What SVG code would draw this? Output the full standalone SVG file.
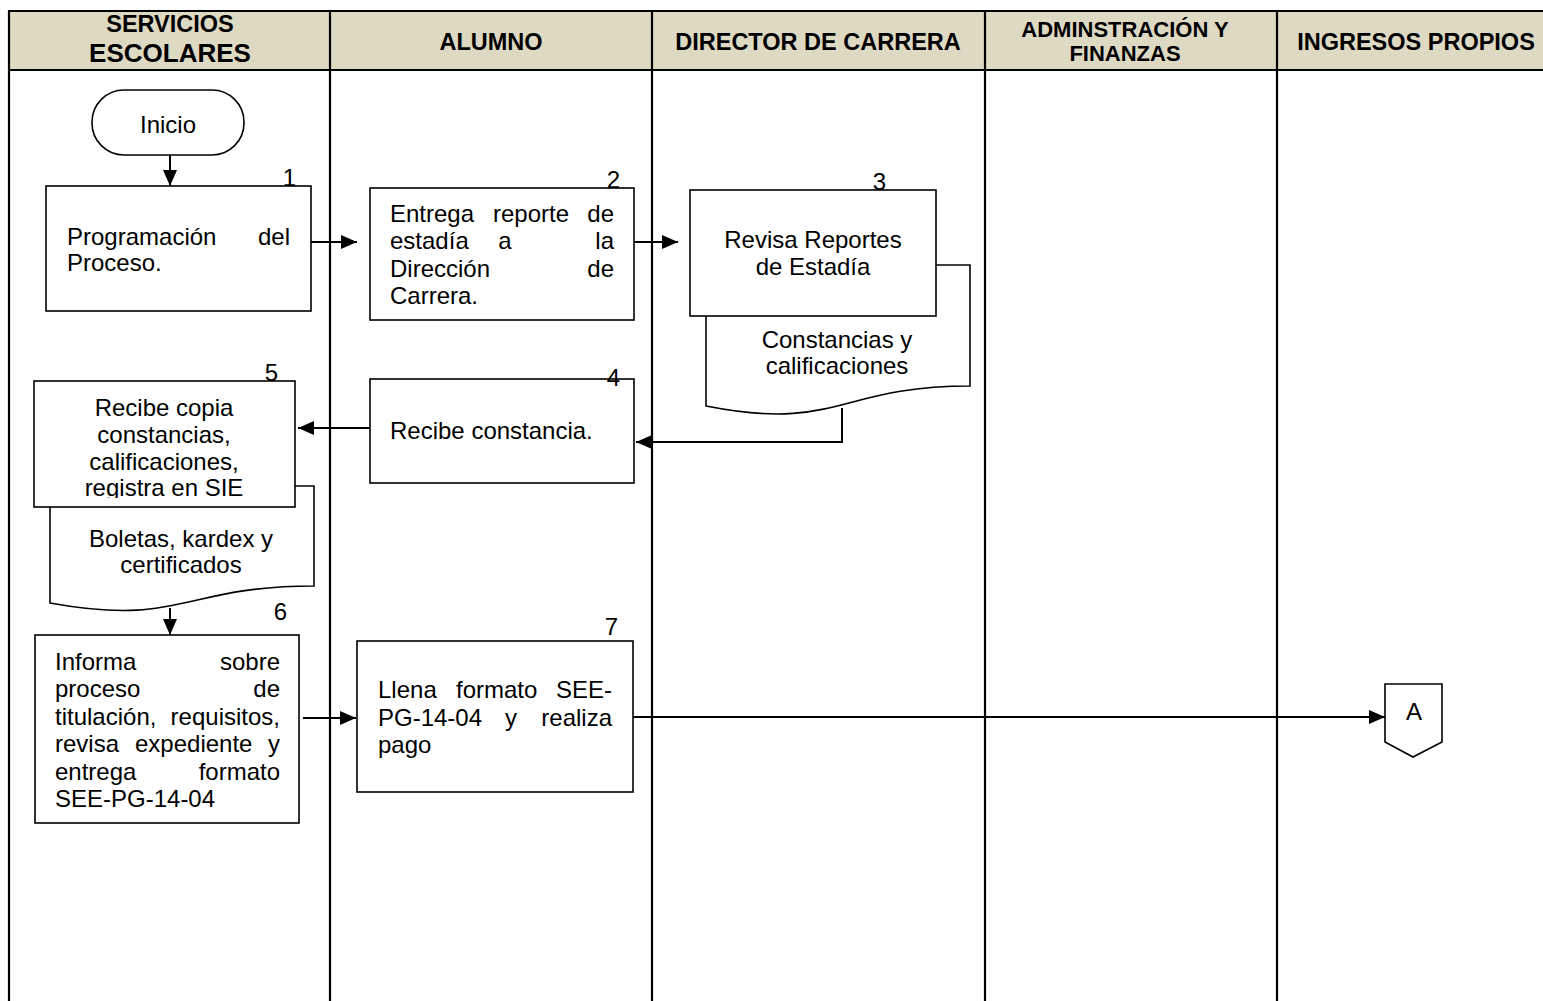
<svg xmlns="http://www.w3.org/2000/svg" width="1543" height="1001" viewBox="0 0 1543 1001">
<style>
text{font-family:"Liberation Sans",Arial,sans-serif;fill:#000}
.h{font-weight:bold;font-size:23.5px;text-anchor:middle}
.t{font-size:24px}
.c{text-anchor:middle}
.e{text-anchor:end}
.box{fill:#fff;stroke:#000;stroke-width:1.6}
.lane{stroke:#000;stroke-width:2.2;fill:none}
.con{stroke:#000;stroke-width:2;fill:none}
</style>
<defs>
<marker id="arr" viewBox="0 0 16 14" refX="16" refY="7" markerWidth="16" markerHeight="14" orient="auto" markerUnits="userSpaceOnUse">
<path d="M0,0 L16,7 L0,14 Z" fill="#000"/>
</marker>
<clipPath id="clip5"><rect x="34" y="381" width="261" height="117"/></clipPath>
</defs>

<g id="lanes">
<rect x="9" y="11" width="1540" height="59" fill="#DDD9C3"/>
<path class="lane" d="M1543,11 H9 V1001 M9,70 H1543 M330,11 V1001 M652,11 V1001 M985,11 V1001 M1277,11 V1001"/>
<text class="h" x="170" y="32">SERVICIOS</text>
<text class="h" x="170" y="62" style="font-size:26px">ESCOLARES</text>
<text class="h" x="491" y="50">ALUMNO</text>
<text class="h" x="818" y="50">DIRECTOR DE CARRERA</text>
<text class="h" x="1125" y="37" style="font-size:22px">ADMINSTRACIÓN Y</text>
<text class="h" x="1125" y="61" style="font-size:22px">FINANZAS</text>
<text class="h" x="1416" y="50">INGRESOS PROPIOS</text>
</g>

<g id="connectors">
<path class="con" d="M170,147 V186" marker-end="url(#arr)"/>
<path class="con" d="M311,242 H357" marker-end="url(#arr)"/>
<path class="con" d="M634,242 H678" marker-end="url(#arr)"/>
<path class="con" d="M842,408 V442 H636" marker-end="url(#arr)"/>
<path class="con" d="M370,428 H298" marker-end="url(#arr)"/>
<path class="con" d="M170,608 V635" marker-end="url(#arr)"/>
<path class="con" d="M303,718 H356" marker-end="url(#arr)"/>
<path class="con" d="M633,717 H1385" marker-end="url(#arr)"/>
</g>

<g id="inicio">
<rect class="box" x="92" y="90" width="152" height="65" rx="32" ry="32"/>
<text class="t c" x="168" y="133">Inicio</text>
</g>

<g id="n1">
<rect class="box" x="46" y="186" width="265" height="125"/>
<text class="t e" x="296" y="186">1</text>
<text class="t" x="67" y="245">Programación</text>
<text class="t e" x="290" y="245">del</text>
<text class="t" x="67" y="271">Proceso.</text>
</g>

<g id="n2">
<rect class="box" x="370" y="188" width="264" height="132"/>
<text class="t e" x="620" y="188">2</text>
<text class="t" x="390" y="222">Entrega</text>
<text class="t" x="493" y="222">reporte</text>
<text class="t e" x="614" y="222">de</text>
<text class="t" x="390" y="249">estadía</text>
<text class="t c" x="505" y="249">a</text>
<text class="t e" x="614" y="249">la</text>
<text class="t" x="390" y="277">Dirección</text>
<text class="t e" x="614" y="277">de</text>
<text class="t" x="390" y="304">Carrera.</text>
</g>

<g id="n3">
<path class="box" d="M706,265 H970 V386 C838,386 838,432 706,406 Z"/>
<rect class="box" x="690" y="190" width="246" height="126"/>
<text class="t e" x="886" y="190">3</text>
<text class="t c" x="813" y="248">Revisa Reportes</text>
<text class="t c" x="813" y="275">de Estadía</text>
<text class="t c" x="837" y="348">Constancias y</text>
<text class="t c" x="837" y="374">calificaciones</text>
</g>

<g id="n4">
<rect class="box" x="370" y="379" width="264" height="104"/>
<text class="t e" x="620" y="386">4</text>
<text class="t" x="390" y="439">Recibe constancia.</text>
</g>

<g id="n5">
<path class="box" d="M50,486 H314 V586 C182,586 182,627 50,603 Z"/>
<rect class="box" x="34" y="381" width="261" height="126"/>
<text class="t e" x="278" y="381">5</text>
<text class="t c" x="164" y="416">Recibe copia</text>
<text class="t c" x="164" y="443">constancias,</text>
<text class="t c" x="164" y="470">calificaciones,</text>
<text class="t c" x="164" y="496" clip-path="url(#clip5)">registra en SIE</text>
<text class="t c" x="181" y="547">Boletas, kardex y</text>
<text class="t c" x="181" y="573">certificados</text>
</g>

<g id="n6">
<rect class="box" x="35" y="635" width="264" height="188"/>
<text class="t e" x="287" y="620">6</text>
<text class="t" x="55" y="670">Informa</text>
<text class="t e" x="280" y="670">sobre</text>
<text class="t" x="55" y="697">proceso</text>
<text class="t e" x="280" y="697">de</text>
<text class="t" x="55" y="725">titulación,</text>
<text class="t e" x="280" y="725">requisitos,</text>
<text class="t" x="55" y="752">revisa</text>
<text class="t" x="135" y="752">expediente</text>
<text class="t e" x="280" y="752">y</text>
<text class="t" x="55" y="780">entrega</text>
<text class="t e" x="280" y="780">formato</text>
<text class="t" x="55" y="807">SEE-PG-14-04</text>
</g>

<g id="n7">
<rect class="box" x="357" y="641" width="276" height="151"/>
<text class="t e" x="618" y="635">7</text>
<text class="t" x="378" y="698">Llena</text>
<text class="t" x="456" y="698">formato</text>
<text class="t e" x="612" y="698">SEE-</text>
<text class="t" x="378" y="726">PG-14-04</text>
<text class="t" x="505" y="726">y</text>
<text class="t e" x="612" y="726">realiza</text>
<text class="t" x="378" y="753">pago</text>
</g>

<g id="connA">
<path class="box" d="M1385,684 H1442 V742 L1413,757 L1385,742 Z"/>
<text class="t c" x="1414" y="720">A</text>
</g>
</svg>
